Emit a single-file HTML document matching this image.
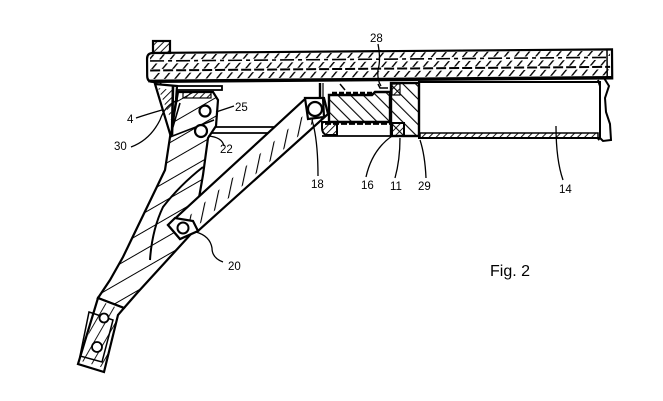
<!DOCTYPE html>
<html><head><meta charset="utf-8"><style>
html,body{margin:0;padding:0;background:#fff;}
svg{display:block;}
text{font-family:"Liberation Sans",sans-serif;fill:#000;}
</style></head><body>
<svg width="663" height="401" viewBox="0 0 663 401" xmlns="http://www.w3.org/2000/svg">
<defs>
<pattern id="hr" width="8" height="8" patternUnits="userSpaceOnUse" patternTransform="rotate(40)"><line x1="0" y1="0" x2="0" y2="8" stroke="#000" stroke-width="2.8"/></pattern>
<pattern id="hb" width="9" height="9" patternUnits="userSpaceOnUse" patternTransform="rotate(-45)"><line x1="0" y1="0" x2="0" y2="9" stroke="#000" stroke-width="2.2"/></pattern>
<pattern id="hs" width="5" height="5" patternUnits="userSpaceOnUse" patternTransform="rotate(45)"><line x1="0" y1="0" x2="0" y2="5" stroke="#000" stroke-width="1.8"/></pattern>
<pattern id="hl" width="16" height="16" patternUnits="userSpaceOnUse" patternTransform="rotate(60)"><line x1="0" y1="0" x2="0" y2="16" stroke="#000" stroke-width="2"/></pattern>
<pattern id="hst" width="11" height="11" patternUnits="userSpaceOnUse" patternTransform="rotate(12)"><line x1="0" y1="0" x2="0" y2="11" stroke="#000" stroke-width="2.2"/></pattern>
<pattern id="hf" width="9" height="9" patternUnits="userSpaceOnUse" patternTransform="rotate(30)"><line x1="0" y1="0" x2="0" y2="9" stroke="#000" stroke-width="1.8"/></pattern>
</defs>

<!-- Container 14 -->
<rect x="419" y="82" width="181" height="56" fill="#fff" stroke="#000" stroke-width="2"/>
<rect x="420" y="133" width="178" height="5" fill="url(#hs)" stroke="#000" stroke-width="1.5"/>
<path d="M598,80 L600,86 L600,138 L598,140" fill="none" stroke="#000" stroke-width="2"/>
<path d="M604,78 L609,86 L605,98 L606,112 L610,124 L611,140 L603,141 L600,138" fill="none" stroke="#000" stroke-width="2"/>

<!-- End cap block -->
<rect x="391" y="83" width="28" height="53" fill="url(#hb)" stroke="#000" stroke-width="2.4"/>
<rect x="392" y="84" width="8" height="11" fill="url(#hs)" stroke="#000" stroke-width="1.2"/>
<rect x="392" y="123" width="12" height="13" fill="url(#hs)" stroke="#000" stroke-width="2"/>

<!-- Cylinder / piston -->
<path d="M320,83 L320,103" stroke="#000" stroke-width="2.4" fill="none"/>
<path d="M323,83 L323,98" stroke="#000" stroke-width="1.2" fill="none"/>
<path d="M329,95 L372,95 L375,92 L390,92 L390,122 L329,122 Z" fill="url(#hb)" stroke="#000" stroke-width="2.4"/>
<line x1="332" y1="93" x2="372" y2="93" stroke="#000" stroke-width="2.4" stroke-dasharray="5,2"/>
<line x1="325" y1="123.5" x2="392" y2="123.5" stroke="#000" stroke-width="2.8" stroke-dasharray="6,2"/>
<line x1="322" y1="136" x2="392" y2="136" stroke="#000" stroke-width="1.8"/>
<path d="M322,122 L337,122 L337,135 L326,135 Q322,133 322,128 Z" fill="url(#hs)" stroke="#000" stroke-width="2"/>
<path d="M340,84 L345,90 M378,84 L380,88 L388,88" stroke="#000" stroke-width="1.5" fill="none"/>

<!-- Rail -->
<g transform="rotate(-0.45 148 53)">
<path d="M153,53 L612,53 L612,82 L153,82 Q147,82 147,76 L147,59 Q147,53 153,53 Z" fill="#fff" stroke="#000" stroke-width="2.2"/>
<rect x="150" y="54.5" width="460" height="5" fill="url(#hr)"/>
<line x1="150" y1="61" x2="610" y2="61" stroke="#000" stroke-width="1.6" stroke-dasharray="14,4,4,4"/>
<rect x="150" y="63.5" width="460" height="5.5" fill="url(#hr)"/>
<line x1="150" y1="70.5" x2="610" y2="70.5" stroke="#000" stroke-width="2" stroke-dasharray="10,3"/>
<rect x="150" y="73" width="460" height="6" fill="url(#hr)"/>
<line x1="148" y1="81" x2="612" y2="81" stroke="#000" stroke-width="2.8"/>
<line x1="607" y1="53" x2="607" y2="82" stroke="#000" stroke-width="1.5"/>
</g>
<!-- small block on top-left -->
<rect x="153" y="41" width="17" height="12" fill="url(#hs)" stroke="#000" stroke-width="2.2"/>

<!-- plate under rail -->
<rect x="165" y="86" width="57" height="4" fill="#fff" stroke="#000" stroke-width="1.8"/>
<line x1="160" y1="83" x2="165" y2="88" stroke="#000" stroke-width="1.8"/>

<!-- horizontal rod -->
<line x1="207" y1="127" x2="300" y2="127" stroke="#000" stroke-width="1.8"/>
<line x1="207" y1="133" x2="300" y2="133" stroke="#000" stroke-width="1.8"/>

<!-- Left leg -->
<path d="M178,92 L213,92 L218,100 L216,126 L208,138 L203,175 L196,215 L191,234 L138,292 L124,308 L98,298 L110,280 L123,257 L165,170 L170,137 Z" fill="#fff" stroke="#000" stroke-width="2.2"/>
<path d="M178,92 L213,92 L218,100 L216,126 L208,138 L203,175 L196,215 L191,234 L138,292 L124,308 L98,298 L110,280 L123,257 L165,170 L170,137 Z" fill="url(#hl)"/>
<path d="M203,167 Q180,185 163,207 Q152,230 150,260" fill="none" stroke="#000" stroke-width="2"/>
<path d="M170,137 L180,103 M170,137 L214,120" stroke="#000" stroke-width="1.6" fill="none"/>
<rect x="183" y="92" width="28" height="6" fill="url(#hs)" stroke="#000" stroke-width="1.2"/>
<circle cx="205" cy="111" r="5.5" fill="#fff" stroke="#000" stroke-width="2.2"/>
<circle cx="201" cy="131" r="6" fill="#fff" stroke="#000" stroke-width="2.2"/>

<!-- Triangle 4/30 -->
<path d="M155,84 L177,86 L176,100 L171,137 Z" fill="#fff" stroke="#000" stroke-width="2.2"/>
<path d="M158,88 L172,90 L171,120 Z" fill="url(#hs)"/>
<line x1="173" y1="86" x2="172" y2="135" stroke="#000" stroke-width="2.6"/>

<!-- Foot -->
<path d="M98,298 L124,308 L118,315 L104,372 L78,364 Z" fill="#fff" stroke="#000" stroke-width="2.2"/>
<path d="M98,300 L120,309 L104,368 L81,361 Z" fill="url(#hf)"/>
<path d="M89,312 L113,320 L102,362 L80,356 Z" fill="none" stroke="#000" stroke-width="1.5"/>
<circle cx="104" cy="318" r="4.5" fill="#fff" stroke="#000" stroke-width="1.8"/>
<circle cx="97" cy="347" r="5" fill="#fff" stroke="#000" stroke-width="1.8"/>

<!-- Strut -->
<path d="M305,99 L324,98 L328,114 L198,231 L180,239 L168,225 Z" fill="#fff" stroke="#000" stroke-width="2.2"/>
<path d="M312,108 L320,117 L195,228 L180,224 Z" fill="url(#hst)"/>
<path d="M305,98 L323,98 L324,117 L308,119 Z" fill="#fff" stroke="#000" stroke-width="2.2"/>
<circle cx="315" cy="109" r="7" fill="#fff" stroke="#000" stroke-width="2.2"/>
<path d="M168,225 L175,218 L193,221 L198,231 L180,239 Z" fill="#fff" stroke="#000" stroke-width="2.2"/>
<circle cx="183" cy="228" r="5.5" fill="#fff" stroke="#000" stroke-width="2"/>

<!-- Leaders -->
<g fill="none" stroke="#000" stroke-width="1.3">
<path d="M378,44 Q381,60 378,70 Q377,80 381,86"/>
<path d="M136,118 Q148,114 162,110"/>
<path d="M131,147 Q150,140 160,120 Q165,105 178,100"/>
<path d="M234,106 L216,112"/>
<path d="M224,146 Q222,137 208,136"/>
<path d="M318,176 Q318,140 312,120"/>
<path d="M366,177 Q372,150 392,136"/>
<path d="M395,178 Q400,160 400,138"/>
<path d="M426,178 Q425,155 420,140"/>
<path d="M563,180 Q556,160 556,126"/>
<path d="M223,262 Q212,258 212,248 Q210,236 196,232"/>
</g>

<!-- Labels -->
<g font-size="11.5">
<text x="370" y="42">28</text>
<text x="127" y="123">4</text>
<text x="235" y="111">25</text>
<text x="114" y="150">30</text>
<text x="220" y="153">22</text>
<text x="311" y="188">18</text>
<text x="361" y="189">16</text>
<text x="390" y="190">11</text>
<text x="418" y="190">29</text>
<text x="559" y="193">14</text>
<text x="228" y="270">20</text>
</g>
<text x="490" y="276" font-size="16">Fig. 2</text>
</svg>
</body></html>
